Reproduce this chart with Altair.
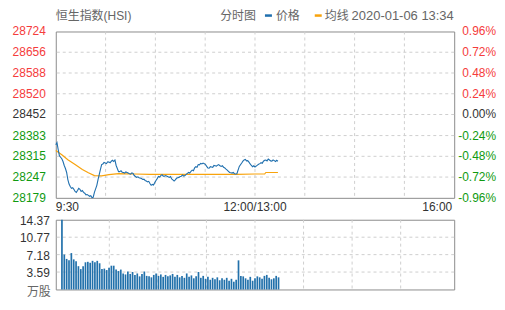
import altair as alt
import pandas as pd

FONT = "Liberation Sans, Noto Sans CJK SC, sans-serif"
W, H1, H2 = 400, 167, 70

PREV_CLOSE = 28452
title_text = "恒生指数(HSI)"
mode_text = "分时图"
price_name = "价格"
avg_name = "均线"
stamp_text = "2020-01-06 13:34"

price_t = [0, 1, 2, 3, 4, 5, 6, 7, 8, 9, 10, 11, 12, 13, 14, 15, 16, 17, 18, 19,
           20, 21, 22, 23, 24, 25, 26, 27, 28, 29, 30, 31, 32, 34, 35, 37, 38, 39, 40, 41,
           42, 43, 44, 45, 46, 47, 48, 49, 50, 52, 53, 54, 55, 56, 57, 58, 60, 61, 62, 63,
           64, 65, 66, 67, 68, 69, 71, 72, 73, 74, 75, 76, 77, 78, 79, 80, 81, 82, 83, 84,
           85, 86, 87, 88, 89, 90, 91, 93, 94, 95, 96, 97, 98, 99, 100, 101, 102, 103, 104, 105,
           106, 107, 108, 109, 110, 111, 112, 113, 114, 115, 116, 117, 118, 119, 120, 121, 122, 123, 124, 125,
           126, 127, 128, 129, 130, 131, 132, 133, 134, 135, 136, 137, 138, 139, 140, 141, 142, 143, 144, 145,
           146, 147, 148, 149, 150, 152, 154, 155, 156, 157, 158, 159, 160, 161, 162, 163, 164, 165, 166, 167,
           168, 169, 170, 171, 172, 173, 174, 175, 176, 177, 178, 179, 180, 181, 182, 183, 184]
price_p = [28353, 28360, 28337, 28317, 28312, 28307, 28298, 28285, 28275, 28262, 28239, 28224, 28216, 28210, 28212, 28207, 28200, 28197, 28203, 28210,
           28207, 28200, 28203, 28197, 28194, 28189, 28190, 28187, 28184, 28186, 28180, 28181, 28197, 28220, 28239, 28272, 28288, 28290, 28295, 28293,
           28291, 28297, 28296, 28294, 28299, 28302, 28298, 28303, 28285, 28265, 28265, 28268, 28263, 28262, 28260, 28264, 28260, 28258, 28257, 28261,
           28259, 28252, 28249, 28246, 28248, 28245, 28242, 28239, 28240, 28236, 28234, 28231, 28233, 28226, 28220, 28223, 28221, 28229, 28236, 28242,
           28249, 28247, 28252, 28255, 28250, 28250, 28252, 28248, 28246, 28249, 28241, 28238, 28234, 28238, 28243, 28245, 28246, 28249, 28250, 28254,
           28250, 28252, 28256, 28259, 28262, 28260, 28266, 28270, 28268, 28277, 28281, 28279, 28288, 28287, 28292, 28290, 28293, 28291, 28288, 28282,
           28277, 28276, 28281, 28280, 28279, 28285, 28284, 28283, 28286, 28288, 28284, 28282, 28284, 28279, 28277, 28273, 28270, 28266, 28262, 28261,
           28260, 28262, 28258, 28257, 28258, 28282, 28293, 28299, 28303, 28305, 28300, 28301, 28296, 28290, 28285, 28281, 28284, 28280, 28283, 28286,
           28289, 28291, 28294, 28292, 28299, 28302, 28303, 28300, 28306, 28303, 28300, 28299, 28303, 28301, 28298, 28302, 28299]

avg_t = [0, 5, 10, 16, 22, 27, 32, 38, 44, 52, 65, 78, 90, 105, 120, 135, 150, 165, 173, 174, 184]
avg_p = [28334, 28320, 28304, 28288, 28272, 28261, 28252, 28251, 28255, 28258, 28257, 28256, 28256, 28256, 28256, 28256, 28256, 28257, 28257, 28262, 28262]

vol_t = list(range(1, 186, 2))
vol_v = [14.37, 7.2, 6.3, 6.0, 7.5, 6.2, 5.8, 4.8, 4.2, 4.8,
         5.6, 5.7, 5.5, 5.9, 5.6, 5.9, 5.4, 4.2, 4.3, 4.0,
         4.5, 4.9, 4.9, 4.1, 3.8, 4.1, 3.3, 3.1, 3.7, 3.2,
         3.6, 3.0, 3.3, 2.7, 3.2, 3.7, 2.8, 2.7, 2.5, 3.0,
         3.3, 2.8, 3.1, 2.6, 3.0, 2.7, 2.9, 3.2, 2.6, 3.0,
         2.5, 2.8, 2.4, 3.3, 2.6, 2.9, 2.3, 2.7, 3.6, 2.4,
         2.8, 2.2, 2.6, 2.0, 2.4, 2.1, 2.5, 1.9, 2.3, 2.0,
         2.4, 1.8, 2.2, 1.6, 2.0, 6.0, 2.8, 2.7, 2.3, 2.0,
         2.6, 1.8, 2.3, 2.7, 2.5, 2.2, 2.8, 3.0, 2.4, 2.1,
         2.3, 2.8, 2.5]

price_ticks = [28179, 28247, 28315, 28383, 28452, 28520, 28588, 28656, 28724]
price_labels = ["28179", "28247", "28315", "28383", "28452", "28520", "28588", "28656", "28724"]
pct_labels = ["-0.96%", "-0.72%", "-0.48%", "-0.24%", "0.00%", "0.24%", "0.48%", "0.72%", "0.96%"]

vol_ticks = [0, 3.59, 7.18, 10.77, 14.37]
vol_labels = ["万股", "3.59", "7.18", "10.77", "14.37"]

time_grid = [41.25, 82.5, 123.75, 165, 206.25, 247.5, 288.75]
time_labels = ["9:30", "12:00/13:00", "16:00"]
time_label_pos = [0, 165, 330]

RED, GREEN, NEUTRAL = "#f53c3c", "#109a10", "#333333"
GRID = "#cfcfcf"
BLUE, ORANGE = "#1f6fae", "#f8a30c"

xs = alt.Scale(domain=[0, 330], nice=False, zero=False)
ys = alt.Scale(domain=[28179, 28724], nice=False, zero=False)
vs = alt.Scale(domain=[0, 14.37], nice=False, zero=False)

price_df = pd.DataFrame({"t": price_t, "p": price_p})
avg_df = pd.DataFrame({"t": avg_t, "p": avg_p})
vol_df = pd.DataFrame({"t": vol_t, "v": vol_v})
ptick_df = pd.DataFrame({"p": price_ticks, "lab": price_labels, "pct": pct_labels})
vtick_df = pd.DataFrame({"v": vol_ticks, "lab": vol_labels})
tgrid_df = pd.DataFrame({"t": time_grid})

X = lambda: alt.X("t:Q", scale=xs, axis=None)
Y = lambda: alt.Y("p:Q", scale=ys, axis=None)
V = lambda: alt.Y("v:Q", scale=vs, axis=None)

def txt(**kw):
    base = dict(font=FONT, fontSize=12, baseline="middle")
    base.update(kw)
    return base

# ---- price panel ----
gx1 = alt.Chart(tgrid_df).mark_rule(color=GRID, strokeDash=[3, 3], strokeWidth=1).encode(x=X())
gy1 = alt.Chart(ptick_df).transform_filter("datum.p > 28179 && datum.p < 28724").mark_rule(
    color=GRID, strokeDash=[3, 3], strokeWidth=1).encode(y=Y())
avg_line = alt.Chart(avg_df).mark_line(color=ORANGE, strokeWidth=1.2).encode(x=X(), y=Y())
price_line = alt.Chart(price_df).mark_line(color=BLUE, strokeWidth=1.1).encode(x=X(), y=Y())

def side_labels(cond, color):
    left = alt.Chart(ptick_df).transform_filter(cond).mark_text(
        **txt(align="right", dx=-10, color=color)).encode(y=Y(), x=alt.value(0), text="lab:N")
    right = alt.Chart(ptick_df).transform_filter(cond).mark_text(
        **txt(align="right", dx=42, color=color)).encode(y=Y(), x=alt.value(W), text="pct:N")
    return left + right

lab_up = side_labels(f"datum.p > {PREV_CLOSE}", RED)
lab_eq = side_labels(f"datum.p == {PREV_CLOSE}", NEUTRAL)
lab_dn = side_labels(f"datum.p < {PREV_CLOSE}", GREEN)

tl_df = pd.DataFrame({"t": time_label_pos, "lab": time_labels})
tl_left = alt.Chart(tl_df).transform_filter("datum.t == 0").mark_text(
    **txt(align="left", color=NEUTRAL)).encode(x=X(), y=alt.value(H1 + 9), text="lab:N")
tl_mid = alt.Chart(tl_df).transform_filter("datum.t == 165").mark_text(
    **txt(align="center", color=NEUTRAL)).encode(x=X(), y=alt.value(H1 + 9), text="lab:N")
tl_right = alt.Chart(tl_df).transform_filter("datum.t == 330").mark_text(
    **txt(align="right", dx=-2, color=NEUTRAL)).encode(x=X(), y=alt.value(H1 + 9), text="lab:N")

def header(s, xpix, color="#666666", size=12):
    return alt.Chart(pd.DataFrame({"s": [s]})).mark_text(
        **txt(align="left", color=color, fontSize=size)).encode(
        x=alt.value(xpix), y=alt.value(-16), text="s:N")

h_title = header(title_text, 0)
h_mode = header(mode_text, 165)
h_price = header(price_name, 221)
h_avg = header(avg_name, 270)
h_stamp = header(stamp_text, 297, size=13)
dash_blue = alt.Chart(pd.DataFrame({"s": [price_name]})).mark_rule(color=BLUE, strokeWidth=2.5).encode(
    x=alt.value(210), x2=alt.value(217), y=alt.value(-16))
dash_orange = alt.Chart(pd.DataFrame({"s": [avg_name]})).mark_rule(color=ORANGE, strokeWidth=2.5).encode(
    x=alt.value(260), x2=alt.value(267), y=alt.value(-16))

price_panel = alt.layer(
    gx1, gy1, avg_line, price_line, lab_up, lab_eq, lab_dn, tl_left, tl_mid, tl_right,
    h_title, h_mode, h_price, h_avg, h_stamp, dash_blue, dash_orange
).properties(width=W, height=H1)

# ---- volume panel ----
gx2 = alt.Chart(tgrid_df).mark_rule(color=GRID, strokeDash=[3, 3], strokeWidth=1).encode(x=X())
gy2 = alt.Chart(vtick_df).transform_filter("datum.v > 0 && datum.v < 14").mark_rule(
    color=GRID, strokeDash=[3, 3], strokeWidth=1).encode(y=V())
bars = alt.Chart(vol_df).mark_bar(color="#2271ab", width=1.7).encode(x=X(), y=V())
vlabs = alt.Chart(vtick_df).transform_filter("datum.v > 0").mark_text(
    **txt(align="right", dx=-6, dy=1, color=NEUTRAL)).encode(y=V(), x=alt.value(0), text="lab:N")
vunit = alt.Chart(vtick_df).transform_filter("datum.v == 0").mark_text(
    **txt(align="right", dx=-5, dy=3, color="#666666")).encode(y=V(), x=alt.value(0), text="lab:N")

vol_panel = alt.layer(gx2, gy2, bars, vlabs, vunit).properties(width=W, height=H2)

chart = alt.vconcat(price_panel, vol_panel, spacing=22, bounds="flush").configure_view(
    stroke="#8c8c8c", strokeWidth=1
).properties(
    padding={"left": 12, "top": 8, "right": 8, "bottom": 11},
    autosize=alt.AutoSizeParams(type="pad"),
    background="white",
)

chart.save("out.html", embed_options={"renderer": "svg", "actions": False})
